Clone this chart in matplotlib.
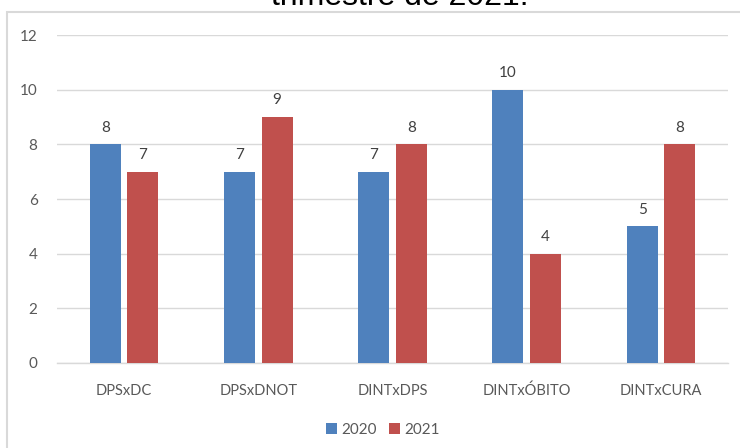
import matplotlib
matplotlib.use("Agg")
import matplotlib.pyplot as plt
import numpy as np
from matplotlib.patches import Rectangle

categories = ["DPSxDC", "DPSxDNOT", "DINTxDPS", "DINTxÓBITO", "DINTxCURA"]
values_2020 = [8, 7, 7, 10, 5]
values_2021 = [7, 9, 8, 4, 8]
series_names = ["2020", "2021"]
yticks = [0, 2, 4, 6, 8, 10, 12]

blue = "#4F81BD"
red = "#C0504D"
grid_c = "#D9D9D9"
tick_c = "#595959"
lab_c = "#404040"

W, H = 740, 448
fig = plt.figure(figsize=(W / 100, H / 100), dpi=100)
fig.patch.set_facecolor("white")

# outer frame (partially visible)
fig.add_artist(Rectangle((7 / W, -0.1), 2.0, 1 - 12 / H + 0.1, transform=fig.transFigure,
                         fill=False, edgecolor=grid_c, linewidth=1.5))

# clipped title (cut off at the top in the reference too)
fig.text(400 / W, 1 - 5 / H, "trimestre de 2021.", ha="center", va="baseline",
         fontsize=23, family="Liberation Sans", color="black")

ax = fig.add_axes([57 / W, 1 - 363 / H, (728 - 57) / W, (363 - 35) / H])
x = np.arange(len(categories))
bw = 0.23
off = 0.14
b1 = ax.bar(x - off, values_2020, bw, color=blue, label=series_names[0], zorder=3)
b2 = ax.bar(x + off, values_2021, bw, color=red, label=series_names[1], zorder=3)

for bars, vals in ((b1, values_2020), (b2, values_2021)):
    for rect, v in zip(bars, vals):
        ax.annotate(str(v), (rect.get_x() + rect.get_width() / 2, v), xytext=(0, 7),
                    textcoords="offset points", ha="center", va="bottom",
                    fontsize=11, color=lab_c, family="Lato")

ax.set_xlim(-0.5, len(categories) - 0.5)
ax.set_ylim(0, 12)
ax.set_yticks(yticks)
ax.set_yticklabels([str(t) for t in yticks], fontsize=11, color=tick_c, family="Lato")
ax.set_xticks(x)
ax.set_xticklabels(categories, fontsize=10.5, color=tick_c, family="Lato")
ax.tick_params(axis="both", length=0)
ax.tick_params(axis="y", pad=14)
ax.tick_params(axis="x", pad=15)
ax.yaxis.grid(True, color=grid_c, linewidth=1, zorder=0)
ax.set_axisbelow(True)
for s in ["top", "right", "left"]:
    ax.spines[s].set_visible(False)
ax.spines["bottom"].set_color(grid_c)
ax.spines["bottom"].set_linewidth(1)

leg = fig.legend(handles=[b1, b2], labels=series_names, loc="center",
                 bbox_to_anchor=(383 / W, 1 - 430 / H), ncol=2, frameon=False,
                 handlelength=0.7, handleheight=0.7, handletextpad=0.3, columnspacing=0.8,
                 prop={"family": "Lato", "size": 11})
for t in leg.get_texts():
    t.set_color(tick_c)

fig.savefig("out.png", dpi=100)
